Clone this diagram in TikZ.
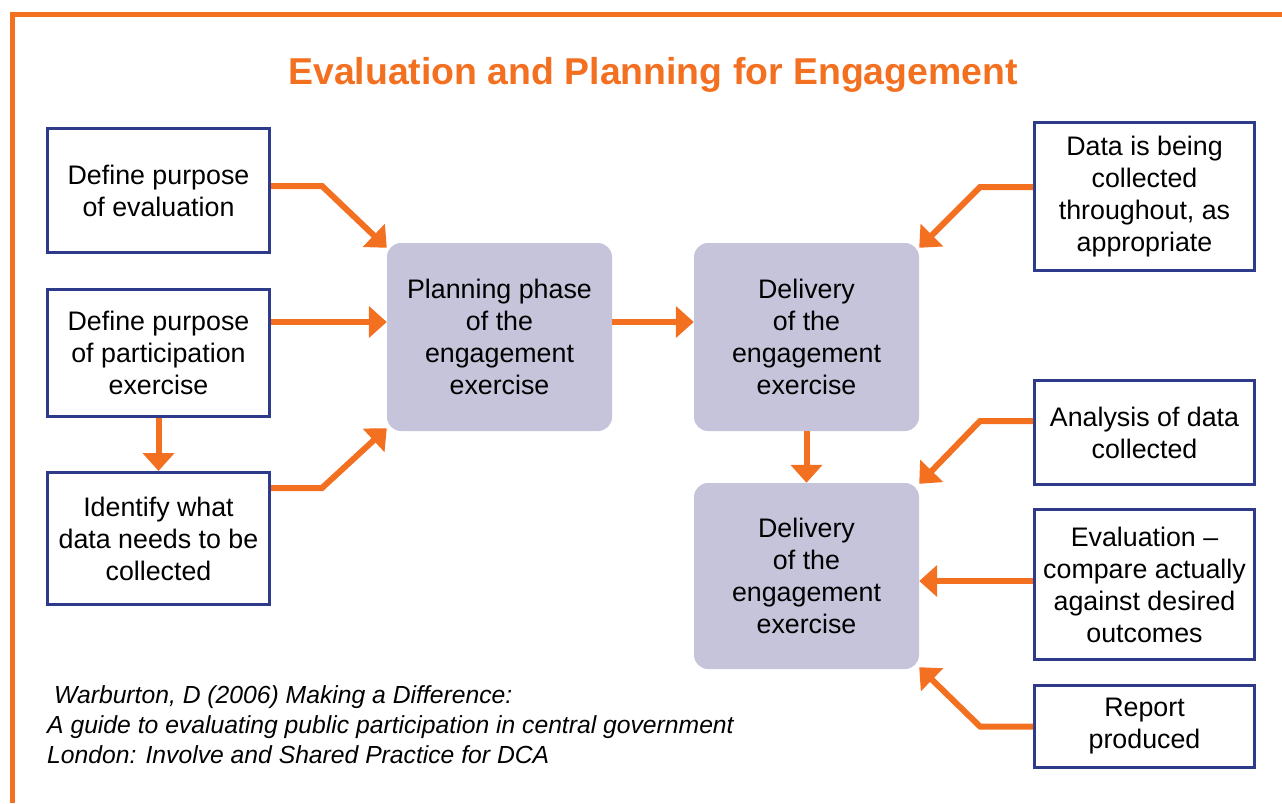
\documentclass[tikz,border=0pt]{standalone}
\usepackage{fontspec}
\setmainfont{Liberation Sans}
\usetikzlibrary{arrows.meta}
\definecolor{orng}{HTML}{F37021}
\definecolor{navy}{HTML}{2E3A8A}
\definecolor{lilac}{HTML}{C5C4DB}
\tikzset{
  bodytext/.style={font=\fontsize{26.8}{32}\selectfont, align=center, text=black},
  navybox/.style={bodytext, draw=navy, line width=3pt, fill=white, inner sep=0pt},
  phasebox/.style={bodytext, fill=lilac, rounded corners=14pt, inner sep=0pt,
    minimum width=225pt, minimum height=188pt},
  flow/.style={draw=orng, line width=6pt, -{Triangle[length=18pt,width=31pt]}},
}
\begin{document}
\begin{tikzpicture}[x=1pt,y=-1pt]
\useasboundingbox (0,0) rectangle (1282,803);
% frame
\draw[orng, line width=5pt] (12.5,803) -- (12.5,14) -- (1282,14);
% title
\node[font=\fontsize{37.4}{44}\selectfont\bfseries, text=orng] (title) at (653,75) {Evaluation and Planning for Engagement};
% left boxes
\node[navybox, minimum width=222pt, minimum height=124pt] (b1) at (158.5,190.5) {Define purpose\\of evaluation};
\node[navybox, minimum width=222pt, minimum height=127pt] (b2) at (158.5,353) {Define purpose\\of participation\\exercise};
\node[navybox, minimum width=222pt, minimum height=132pt] (b3) at (158.5,538.5) {Identify what\\data needs to be\\collected};
% right boxes
\node[navybox, minimum width=220pt, minimum height=148pt, text depth=6pt] (r1) at (1144.5,196.5) {Data is being\\collected\\throughout, as\\appropriate};
\node[navybox, minimum width=220pt, minimum height=104pt] (r2) at (1144.5,432.5) {Analysis of data\\collected};
\node[navybox, minimum width=220pt, minimum height=150pt] (r3) at (1144.5,584.5) {Evaluation –\\compare actually\\against desired\\outcomes};
\node[navybox, minimum width=220pt, minimum height=82pt, text depth=7pt] (r4) at (1144.5,726.5) {Report\\produced};
% phase boxes
\node[phasebox] (p) at (499.5,337) {Planning phase\\of the\\engagement\\exercise};
\node[phasebox] (d1) at (806.5,337) {Delivery\\of the\\engagement\\exercise};
\node[phasebox, minimum height=186pt] (d2) at (806.5,576) {Delivery\\of the\\engagement\\exercise};
% citation
\node[font=\fontsize{24.7}{30}\selectfont\itshape, align=left, anchor=north west, inner sep=0pt] (cite) at (47,685)
  {\hspace*{7pt}Warburton, D (2006) Making a Difference:\\A guide to evaluating public participation in central government\\London: Involve and Shared Practice for DCA};
% arrows
\draw[flow] ([yshift=4.5pt]b1.east) -- ++(51,0) -- ([yshift=-5pt]p.north west);
\draw[flow] ([yshift=31pt]b2.east) -- ([yshift=31pt]b2.east -| p.west);
\draw[flow] ([yshift=50.5pt]b3.east) -- ++(51,0) -- ([yshift=3pt]p.south west);
\draw[flow] (b2.south) -- (b3.north);
\draw[flow] ([yshift=15pt]p.east) -- ([yshift=15pt]d1.west);
\draw[flow] (d1.south) -- (d2.north);
\draw[flow] ([yshift=9.5pt]r1.west) -- ++(-53,0) -- ([yshift=-5pt]d1.north east);
\draw[flow] ([yshift=11.5pt]r2.west) -- ++(-53,0) -- ([yshift=-1pt]d2.north east);
\draw[flow] ([yshift=3.5pt]r3.west) -- ([yshift=3.5pt]r3.west -| d2.east);
\draw[flow] (r4.west) -- ++(-53,0) -- ([yshift=2pt]d2.south east);
\end{tikzpicture}
\end{document}
